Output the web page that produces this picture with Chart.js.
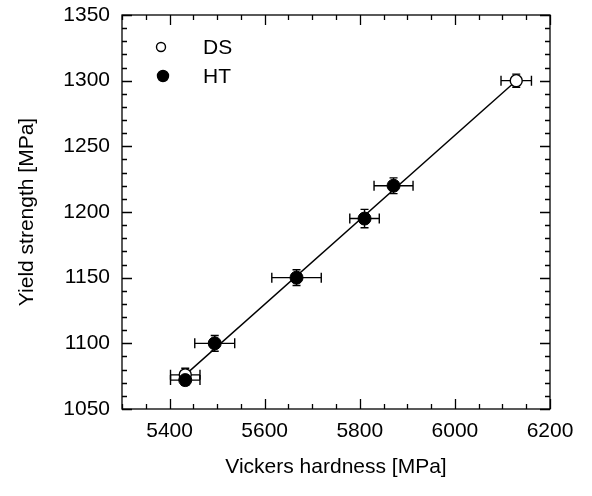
<!DOCTYPE html>
<html>
<head>
<meta charset="utf-8">
<script src="https://cdn.jsdelivr.net/npm/chart.js@4"></script>
<style>
  html, body { margin: 0; padding: 0; background: #fff; }
  #wrap { width: 592px; height: 496px; }
</style>
</head>
<body>
<div id="wrap"><canvas id="chart"></canvas></div>
<script>
// data
const dsHardness = [5433, 6129];
const dsYield = [1076, 1300];
const dsHardnessErr = [31, 32];
const dsYieldErr = [5, 5];

const htHardness = [5433, 5495, 5667, 5810, 5871];
const htYield = [1072, 1100, 1150, 1195, 1220];
const htHardnessErr = [31, 42, 52, 31, 41];
const htYieldErr = [4, 6, 6, 7, 6];

const fitHardness = [5433, 6129];
const fitYield = [1076, 1300];

const xTickValues = [5400, 5600, 5800, 6000, 6200];
const yTickValues = [1050, 1100, 1150, 1200, 1250, 1300, 1350];

const FONT = "'Liberation Sans', Arial, Helvetica, sans-serif";

function toPoints(xs, ys) {
    return xs.map((x, i) => ({ x: x, y: ys[i] }));
}

// error bars, drawn under the markers
const errorBars = {
    id: 'errorBars',
    beforeDatasetsDraw(chart) {
        const ctx = chart.ctx;
        const xs = chart.scales.x, ys = chart.scales.y;
        ctx.save();
        ctx.strokeStyle = '#000';
        ctx.lineWidth = 1.4;
        chart.data.datasets.forEach(ds => {
            if (!ds.errX) return;
            ds.data.forEach((p, i) => {
                const px = xs.getPixelForValue(p.x);
                const py = ys.getPixelForValue(p.y);
                const x1 = xs.getPixelForValue(p.x - ds.errX[i]);
                const x2 = xs.getPixelForValue(p.x + ds.errX[i]);
                const y1 = ys.getPixelForValue(p.y - ds.errY[i]);
                const y2 = ys.getPixelForValue(p.y + ds.errY[i]);
                ctx.beginPath();
                ctx.moveTo(x1, py); ctx.lineTo(x2, py);
                ctx.moveTo(x1, py - 5); ctx.lineTo(x1, py + 5);
                ctx.moveTo(x2, py - 5); ctx.lineTo(x2, py + 5);
                ctx.moveTo(px, y1); ctx.lineTo(px, y2);
                ctx.moveTo(px - 4, y1); ctx.lineTo(px + 4, y1);
                ctx.moveTo(px - 4, y2); ctx.lineTo(px + 4, y2);
                ctx.stroke();
            });
        });
        ctx.restore();
    }
};

// box frame with inward ticks on all four sides
const frameTicks = {
    id: 'frameTicks',
    afterDraw(chart) {
        const ctx = chart.ctx;
        const a = chart.chartArea;
        const xs = chart.scales.x, ys = chart.scales.y;
        ctx.save();
        ctx.strokeStyle = '#000';
        ctx.lineWidth = 1.3;
        ctx.beginPath();
        for (let v = xs.min; v <= xs.max; v += 50) {
            const px = Math.round(xs.getPixelForValue(v)) + 0.5;
            const len = v % 200 === 0 ? 10 : 5;
            ctx.moveTo(px, a.bottom); ctx.lineTo(px, a.bottom - len);
            ctx.moveTo(px, a.top); ctx.lineTo(px, a.top + len);
        }
        for (let v = ys.min; v <= ys.max; v += 10) {
            const py = Math.round(ys.getPixelForValue(v)) + 0.5;
            const len = v % 50 === 0 ? 10 : 5;
            ctx.moveTo(a.left, py); ctx.lineTo(a.left + len, py);
            ctx.moveTo(a.right, py); ctx.lineTo(a.right - len, py);
        }
        ctx.stroke();
        ctx.strokeRect(a.left, a.top, a.right - a.left, a.bottom - a.top);
        ctx.restore();
    }
};

// legend in the upper left corner of the plot
const cornerLegend = {
    id: 'cornerLegend',
    afterDraw(chart) {
        const ctx = chart.ctx;
        const a = chart.chartArea;
        const rows = [
            { ds: chart.data.datasets[0], x: a.left + 39, y: a.top + 32, r: 4.5 },
            { ds: chart.data.datasets[1], x: a.left + 41, y: a.top + 61, r: 5.5 }
        ];
        ctx.save();
        ctx.font = '21px ' + FONT;
        ctx.textBaseline = 'middle';
        ctx.fillStyle = '#000';
        rows.forEach(row => {
            ctx.beginPath();
            ctx.arc(row.x, row.y, row.r, 0, Math.PI * 2);
            ctx.fillStyle = row.ds.backgroundColor;
            ctx.fill();
            ctx.lineWidth = 1.4;
            ctx.strokeStyle = '#000';
            ctx.stroke();
            ctx.fillStyle = '#000';
            ctx.fillText(row.ds.label, a.left + 81, row.y + 1);
        });
        ctx.restore();
    }
};

new Chart(document.getElementById('chart'), {
    type: 'scatter',
    data: {
        datasets: [{
            label: 'DS',
            data: toPoints(dsHardness, dsYield),
            errX: dsHardnessErr,
            errY: dsYieldErr,
            backgroundColor: '#fff',
            borderColor: '#000',
            borderWidth: 1.4,
            pointRadius: 6,
            order: 1
        }, {
            label: 'HT',
            data: toPoints(htHardness, htYield),
            errX: htHardnessErr,
            errY: htYieldErr,
            backgroundColor: '#000',
            borderColor: '#000',
            borderWidth: 1,
            pointRadius: 6.5,
            order: 0
        }, {
            label: 'fit',
            type: 'line',
            data: toPoints(fitHardness, fitYield),
            borderColor: '#000',
            borderWidth: 1.4,
            pointRadius: 0,
            fill: false,
            order: 2
        }]
    },
    options: {
        responsive: true,
        maintainAspectRatio: false,
        animation: false,
        events: [],
        layout: { padding: { top: 15, right: 42, left: 0, bottom: 0 } },
        plugins: {
            legend: { display: false },
            tooltip: { enabled: false }
        },
        scales: {
            x: {
                type: 'linear',
                min: 5300,
                max: 6200,
                afterBuildTicks: s => { s.ticks = xTickValues.map(v => ({ value: v })); },
                afterFit: s => { s.height = 87; s.paddingLeft = 0; s.paddingRight = 0; },
                grid: { display: false, drawTicks: false },
                border: { display: false },
                ticks: {
                    padding: 10,
                    color: '#000',
                    font: { family: FONT, size: 21 },
                    callback: v => String(v)
                },
                title: {
                    display: true,
                    text: 'Vickers hardness [MPa]',
                    color: '#000',
                    font: { family: FONT, size: 21 },
                    padding: { top: 0, bottom: 16 }
                }
            },
            y: {
                type: 'linear',
                min: 1050,
                max: 1350,
                afterBuildTicks: s => { s.ticks = yTickValues.map(v => ({ value: v })); },
                afterFit: s => { s.width = 122; s.paddingTop = 0; s.paddingBottom = 0; },
                grid: { display: false, drawTicks: false },
                border: { display: false },
                ticks: {
                    padding: 12,
                    color: '#000',
                    font: { family: FONT, size: 21 },
                    callback: v => String(v)
                },
                title: {
                    display: true,
                    text: 'Yield strength [MPa]',
                    color: '#000',
                    font: { family: FONT, size: 21 },
                    padding: { top: 15, bottom: 0 }
                }
            }
        }
    },
    plugins: [errorBars, frameTicks, cornerLegend]
});
</script>
</body>
</html>
